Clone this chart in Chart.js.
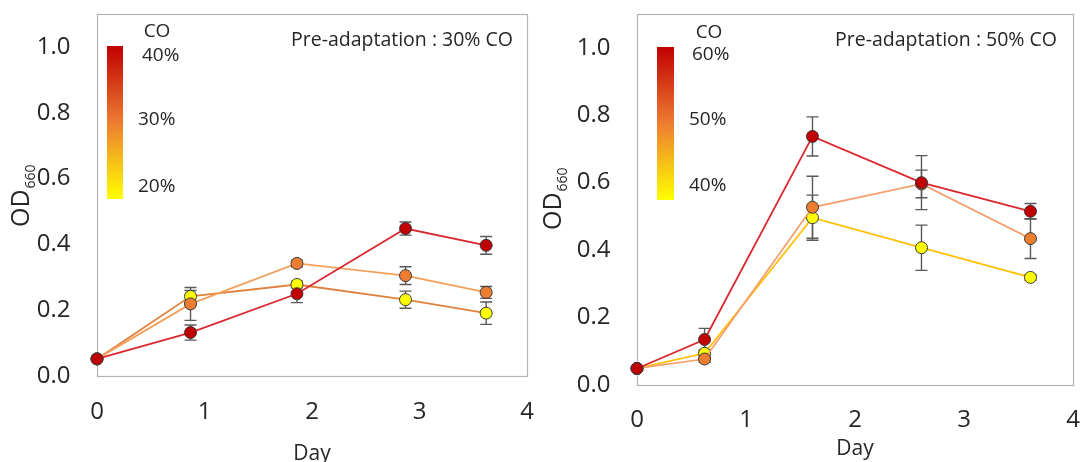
<!DOCTYPE html>
<html>
<head>
<meta charset="utf-8">
<title>OD660 growth under CO</title>
<script src="https://cdn.jsdelivr.net/npm/chart.js@4.4.1/dist/chart.umd.min.js"></script>
<style>
  html, body { margin: 0; padding: 0; background: #ffffff; }
  #wrap { position: relative; width: 1080px; height: 462px; overflow: hidden; }
  #wrap canvas { position: absolute; top: 0; }
</style>
</head>
<body>
<div id="wrap">
  <canvas id="c30" width="540" height="462" style="left:0px"></canvas>
  <canvas id="c50" width="540" height="462" style="left:540px"></canvas>
</div>
<script>
// ---- Panel A: pre-adapted at 30% CO ----
const days30 = [0, 0.87, 1.86, 2.87, 3.62];
const od30_co40 = [0.052, 0.132, 0.250, 0.448, 0.397];
const od30_co30 = [0.052, 0.219, 0.342, 0.305, 0.254];
const od30_co20 = [0.052, 0.242, 0.278, 0.232, 0.191];
const sd30_co40 = [0, 0.023, 0.027, 0.020, 0.027];
const sd30_co30 = [0, 0.050, 0.010, 0.027, 0.018];
const sd30_co20 = [0, 0.018, 0.010, 0.026, 0.034];
const scale30 = ['40%', '30%', '20%'];

// ---- Panel B: pre-adapted at 50% CO ----
const days50 = [0, 0.62, 1.61, 2.61, 3.61];
const od50_co60 = [0.049, 0.135, 0.737, 0.600, 0.515];
const od50_co50 = [0.049, 0.077, 0.527, 0.596, 0.434];
const od50_co40 = [0.049, 0.094, 0.496, 0.407, 0.319];
const sd50_co60 = [0, 0.033, 0.058, 0.080, 0.023];
const sd50_co50 = [0, 0.010, 0.092, 0.041, 0.059];
const sd50_co40 = [0, 0.010, 0.067, 0.067, 0.008];
const scale50 = ['60%', '50%', '40%'];

// shared axis ticks
const dayTicks = [0, 1, 2, 3, 4];
const odTicks = [0, 0.2, 0.4, 0.6, 0.8, 1.0];

const FONT = '"Open Sans", "Noto Sans", "DejaVu Sans", sans-serif';
const TEXT = '#262626';
const RED = '#c00000', ORANGE = '#ed7d31', YELLOW = '#ffff00';

// keep the plot frame where the layout puts it: no extra room for edge labels
function fixBox(size, horizontal) {
  return sc => {
    if (horizontal) sc.height = size; else sc.width = size;
    sc.paddingTop = 0; sc.paddingBottom = 0;
    sc.paddingLeft = 0; sc.paddingRight = 0;
  };
}

function makePanel(canvasId, p) {
  const series = [
    { label: p.scale[0], data: p.high, err: p.highErr, fill: RED, line: '#d9282f' },
    { label: p.scale[1], data: p.mid,  err: p.midErr,  fill: ORANGE, line: p.midLine },
    { label: p.scale[2], data: p.low,  err: p.lowErr,  fill: YELLOW, line: p.lowLine }
  ];

  const decor = {
    id: 'decor',
    beforeDatasetsDraw(chart) {
      const { ctx, chartArea: a, scales: { x, y } } = chart;
      ctx.save();
      // frame around the plotting area
      ctx.strokeStyle = '#b4b4b4';
      ctx.lineWidth = 1.2;
      ctx.strokeRect(Math.round(a.left) + 0.5, Math.round(a.top) + 0.5,
                     Math.round(a.right - a.left), Math.round(a.bottom - a.top));
      // error bars (mean ± SD)
      ctx.strokeStyle = '#595959';
      ctx.lineWidth = 1.4;
      series.slice().reverse().forEach(s => {
        s.data.forEach((v, i) => {
          const e = s.err[i];
          if (!e) return;
          const px = x.getPixelForValue(p.days[i]);
          const t = y.getPixelForValue(v + e);
          const b = y.getPixelForValue(v - e);
          ctx.beginPath();
          ctx.moveTo(px, t); ctx.lineTo(px, b);
          ctx.moveTo(px - 6, t); ctx.lineTo(px + 6, t);
          ctx.moveTo(px - 6, b); ctx.lineTo(px + 6, b);
          ctx.stroke();
        });
      });
      ctx.restore();
    },
    afterDraw(chart) {
      const { ctx, chartArea: a } = chart;
      ctx.save();
      // CO colour bar
      const cb = p.bar;
      const g = ctx.createLinearGradient(0, cb.top, 0, cb.bottom);
      g.addColorStop(0, RED);
      g.addColorStop(0.5, ORANGE);
      g.addColorStop(1, YELLOW);
      ctx.fillStyle = g;
      ctx.fillRect(cb.left, cb.top, cb.right - cb.left, cb.bottom - cb.top);

      ctx.fillStyle = TEXT;
      ctx.textBaseline = 'alphabetic';
      ctx.font = '19px ' + FONT;
      ctx.textAlign = 'center';
      ctx.fillText('CO', p.coTitle.x, p.coTitle.y);
      ctx.textAlign = 'left';
      p.scale.forEach((lab, i) => {
        ctx.fillText(lab, p.scaleLabels[i].x, p.scaleLabels[i].y);
      });

      // condition note
      ctx.textAlign = 'right';
      ctx.font = '19.5px ' + FONT;
      ctx.fillText(p.note, p.noteAt.x, p.noteAt.y);

      // x-axis title
      ctx.textAlign = 'center';
      ctx.font = '21px ' + FONT;
      ctx.fillText('Day', (a.left + a.right) / 2, p.dayY);

      // y-axis title: OD with subscript 660
      ctx.translate(p.odAt.x, p.odAt.y);
      ctx.rotate(-Math.PI / 2);
      ctx.textAlign = 'left';
      ctx.font = '25px ' + FONT;
      ctx.fillText('OD', 0, 0);
      const w = ctx.measureText('OD').width;
      ctx.font = '14px ' + FONT;
      ctx.fillText('660', w + 1, 6);
      ctx.restore();
    }
  };

  return new Chart(document.getElementById(canvasId), {
    type: 'line',
    data: {
      datasets: series.map(s => ({
        label: s.label,
        data: s.data.map((v, i) => ({ x: p.days[i], y: v })),
        borderColor: s.line,
        borderWidth: 1.8,
        backgroundColor: s.fill,
        pointBackgroundColor: s.fill,
        pointBorderColor: '#3a3a3a',
        pointBorderWidth: 1,
        pointRadius: 6,
        tension: 0,
        clip: false
      }))
    },
    options: {
      responsive: false,
      animation: false,
      events: [],
      layout: { autoPadding: false, padding: { left: 0, top: 14, right: p.padRight, bottom: 0 } },
      plugins: { legend: { display: false }, tooltip: { enabled: false } },
      scales: {
        x: {
          type: 'linear', min: 0, max: 4,
          afterFit: fixBox(p.xHeight, true),
          afterBuildTicks: sc => { sc.ticks = dayTicks.map(v => ({ value: v })); },
          grid: { display: false, drawTicks: false },
          border: { display: false },
          ticks: { padding: p.xPad, color: TEXT, font: { family: FONT, size: 24 }, maxRotation: 0 }
        },
        y: {
          type: 'linear', min: 0, max: 1.1,
          afterFit: fixBox(97, false),
          afterBuildTicks: sc => { sc.ticks = odTicks.map(v => ({ value: v })); },
          grid: { display: false, drawTicks: false },
          border: { display: false },
          ticks: { padding: 26.5, color: TEXT, font: { family: FONT, size: 24 },
                   callback: v => v.toFixed(1) }
        }
      }
    },
    plugins: [decor]
  });
}

makePanel('c30', {
  days: days30,
  high: od30_co40, mid: od30_co30, low: od30_co20,
  highErr: sd30_co40, midErr: sd30_co30, lowErr: sd30_co20,
  midLine: '#f3a05c', lowLine: '#df823d',
  scale: scale30,
  note: 'Pre-adaptation : 30% CO',
  noteAt: { x: 513, y: 46 },
  bar: { left: 107, right: 123, top: 46, bottom: 199 },
  coTitle: { x: 157, y: 37 },
  scaleLabels: [{ x: 142, y: 61 }, { x: 138, y: 125 }, { x: 138, y: 192 }],
  odAt: { x: 29, y: 227 },
  dayY: 460,
  padRight: 13, xHeight: 86, xPad: 21.6
});

makePanel('c50', {
  days: days50,
  high: od50_co60, mid: od50_co50, low: od50_co40,
  highErr: sd50_co60, midErr: sd50_co50, lowErr: sd50_co40,
  midLine: '#f3a070', lowLine: '#ffc000',
  scale: scale50,
  note: 'Pre-adaptation : 50% CO',
  noteAt: { x: 517, y: 46 },
  bar: { left: 117, right: 134, top: 47, bottom: 200 },
  coTitle: { x: 169, y: 38 },
  scaleLabels: [{ x: 152, y: 60 }, { x: 149, y: 125 }, { x: 149, y: 191 }],
  odAt: { x: 21, y: 230 },
  dayY: 455,
  padRight: 7, xHeight: 77, xPad: 20.6
});
</script>
</body>
</html>
